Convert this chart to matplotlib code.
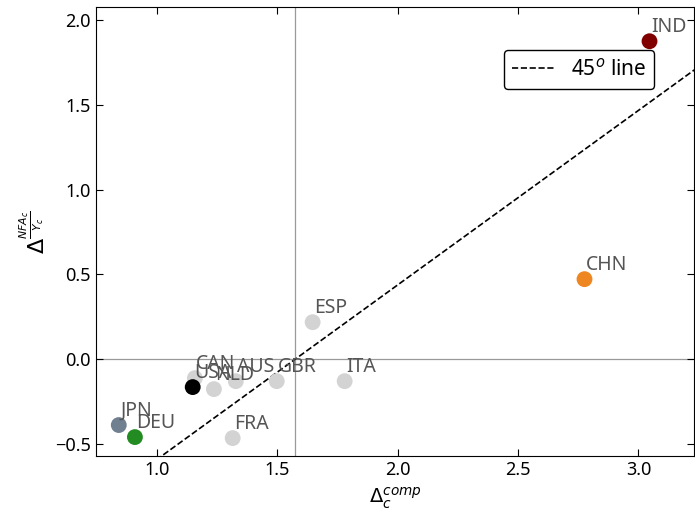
import numpy as np
import matplotlib.pyplot as plt

plt.rcParams["font.family"] = ["Noto Sans", "DejaVu Sans"]
plt.rcParams["mathtext.fontset"] = "dejavusans"

# country data
countries = ["CAN", "USA", "NLD", "AUS", "GBR", "ITA", "ESP", "FRA", "JPN", "DEU", "CHN", "IND"]
delta_comp = [1.158, 1.149, 1.237, 1.328, 1.498, 1.780, 1.647, 1.315, 0.842, 0.909, 2.776, 3.046]
delta_nfa = [-0.112, -0.165, -0.177, -0.130, -0.130, -0.130, 0.218, -0.466, -0.389, -0.460, 0.472, 1.876]
colors = ["lightgray", "black", "lightgray", "lightgray", "lightgray", "lightgray",
          "lightgray", "lightgray", "slategray", "forestgreen", "#ee8622", "maroon"]

x_ref = 1.575  # vertical reference line
y_ref = 0.0
slope = 1.03

fig = plt.figure(figsize=(6.95, 5.13), dpi=100)
ax = fig.add_axes([0.138, 0.111, 0.861, 0.875])

ax.axvline(x_ref, color="#999999", lw=0.9, zorder=1)
ax.axhline(y_ref, color="#999999", lw=0.9, zorder=1)

xx = np.array([0.7, 3.4])
ax.plot(xx, slope * (xx - x_ref) + y_ref, "k--", lw=1.2, label="45$^o$ line", zorder=2)

for c, x, y, col in zip(countries, delta_comp, delta_nfa, colors):
    ax.scatter(x, y, s=130, color=col, zorder=3, edgecolors="none")
    ax.annotate(c, (x, y), xytext=(1, 3), textcoords="offset points",
                ha="left", va="bottom", fontsize=14, color="#555555", zorder=4)

ax.set_xlim(0.747, 3.232)
ax.set_ylim(-0.572, 2.077)
ax.set_xticks([1.0, 1.5, 2.0, 2.5, 3.0])
ax.set_yticks([-0.5, 0.0, 0.5, 1.0, 1.5, 2.0])
ax.tick_params(direction="in", top=True, right=True, labelsize=13, length=5)

ax.set_xlabel(r"$\Delta_c^{comp}$", fontsize=14, labelpad=5)
ax.set_ylabel(r"$\Delta^{\frac{NFA_c}{Y_c}}$", fontsize=16, labelpad=4)

leg = ax.legend(loc="upper right", bbox_to_anchor=(0.933, 0.904), borderaxespad=0,
                fontsize=15, frameon=True, fancybox=True, edgecolor="black", framealpha=1)
leg.get_frame().set_linewidth(1.0)

fig.savefig("out.png", dpi=100)
